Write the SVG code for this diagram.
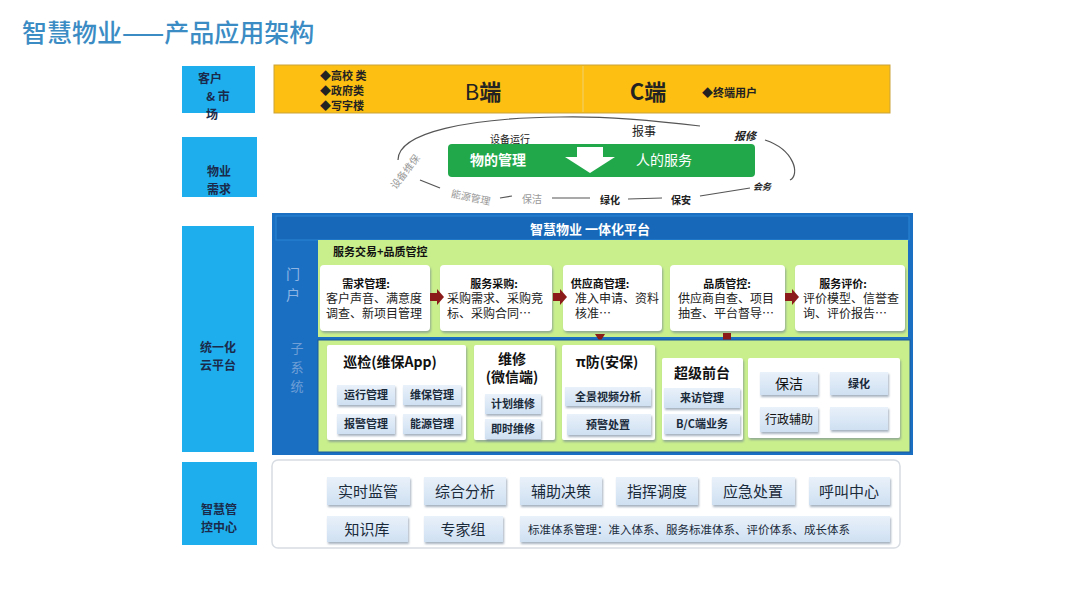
<svg xmlns="http://www.w3.org/2000/svg" width="1080" height="607" viewBox="0 0 1080 607">
<defs>
<linearGradient id="btn" x1="0" y1="0" x2="0" y2="1"><stop offset="0" stop-color="#e9f1fa"/><stop offset="1" stop-color="#cfe0f2"/></linearGradient>
<filter id="sh" x="-10%" y="-10%" width="130%" height="140%"><feDropShadow dx="1" dy="2" stdDeviation="1.2" flood-color="#6a7f95" flood-opacity="0.6"/></filter>
</defs>
<style>
text{font-family:"Noto Sans CJK SC","Noto Sans",sans-serif;}
.lbl{fill:#1eaeee;}
.lt{font-size:12px;font-weight:bold;fill:#1a2a4a;text-anchor:middle;}
.btn{fill:url(#btn);filter:url(#sh);}
.bt{font-size:15px;fill:#1a2a3a;text-anchor:middle;}
.st{font-size:11px;font-weight:bold;fill:#1a2a3a;text-anchor:middle;}
.card{fill:#ffffff;filter:url(#sh);}
.ch{font-size:11px;font-weight:bold;fill:#111;text-anchor:middle;}
.cb{font-size:12px;fill:#222;}
.arr{fill:#8b1a1a;}
.ring{fill:none;stroke:#555;stroke-width:1.2;}
.rl{font-size:10px;fill:#222;}
.rg{font-size:10px;fill:#999;}
</style>
<rect width="1080" height="607" fill="#ffffff"/>
<text x="22" y="42" font-size="25" fill="#3b8cc4" font-weight="500">智慧物业——产品应用架构</text>

<g id="label-market"><rect class="lbl" x="182" y="66" width="73" height="47"/><text class="lt" x="210" y="83">客户</text><text class="lt" x="218" y="101">&amp; 市</text><text class="lt" x="212" y="119">场</text></g>
<g id="label-demand"><rect class="lbl" x="182" y="137" width="75" height="60"/><text class="lt" x="219" y="176">物业</text><text class="lt" x="219" y="194">需求</text></g>
<g id="label-platform"><rect class="lbl" x="182" y="226" width="72" height="226"/><text class="lt" x="218" y="352">统一化</text><text class="lt" x="218" y="370">云平台</text></g>
<g id="label-control"><rect class="lbl" x="182" y="462" width="75" height="83"/><text class="lt" x="219" y="514">智慧管</text><text class="lt" x="219" y="532">控中心</text></g>

<g id="market">
<rect x="274" y="65" width="616" height="48" fill="#fcbf12" stroke="#c9a33a" stroke-width="1"/>
<line x1="583" y1="66" x2="583" y2="112" stroke="#f0d070" stroke-width="1"/>
<text x="320" y="80" font-size="11" font-weight="bold" fill="#222">◆高校 类</text>
<text x="320" y="95" font-size="11" font-weight="bold" fill="#222">◆政府类</text>
<text x="320" y="110" font-size="11" font-weight="bold" fill="#222">◆写字楼</text>
<text x="483" y="100" font-size="22" fill="#222" text-anchor="middle" font-family="Liberation Serif, serif">B<tspan font-family="Noto Sans CJK SC" font-weight="bold">端</tspan></text>
<text x="648" y="100" font-size="22" font-weight="bold" fill="#222" text-anchor="middle" font-family="Liberation Serif, serif">C<tspan font-family="Noto Sans CJK SC">端</tspan></text>
<text x="702" y="97" font-size="11" font-weight="bold" fill="#222">◆终端用户</text>
</g>

<g id="demand">
<path class="ring" d="M398,160 C398,132 470,118 560,117 C600,116 650,120 700,126"/>
<path class="ring" d="M765,140 C795,150 800,175 790,180"/>
<path class="ring" d="M420,180 L440,188"/>
<path class="ring" d="M500,198 L512,196"/>
<path class="ring" d="M552,198 L590,198"/>
<path class="ring" d="M628,199 L662,198"/>
<path class="ring" d="M700,196 L750,188"/>
<text class="rl" x="510" y="143" text-anchor="middle">设备运行</text>
<text x="644" y="136" font-size="12" fill="#222" text-anchor="middle">报事</text>
<text x="745" y="140" font-size="11" font-weight="bold" font-style="italic" fill="#222" text-anchor="middle">报修</text>
<text x="762" y="190" font-size="9" font-weight="bold" font-style="italic" fill="#222" text-anchor="middle">会务</text>
<text class="rg" transform="translate(408,174) rotate(-52)" text-anchor="middle">设备维保</text>
<text class="rg" transform="translate(470,201) rotate(12)" text-anchor="middle">能源管理</text>
<text class="rg" x="532" y="203" text-anchor="middle">保洁</text>
<text class="rl" x="610" y="204" text-anchor="middle" font-weight="bold">绿化</text>
<text class="rl" x="681" y="204" text-anchor="middle" font-weight="bold">保安</text>
<rect x="448" y="144" width="307" height="33" rx="4" fill="#21a84a"/>
<text x="470" y="165" font-size="14" font-weight="bold" fill="#ffffff">物的管理</text>
<text x="636" y="165" font-size="14" fill="#ffffff">人的服务</text>
<path d="M577,147 L603,147 L603,157 L615,157 L590,173 L565,157 L577,157 z" fill="#ffffff"/>
</g>

<g id="platform">
<rect x="272" y="213" width="641" height="242" fill="#1b6fc3"/>
<rect x="276" y="216" width="633" height="24" fill="#1768b8" stroke="#2a86d8" stroke-width="1"/>
<text x="590" y="234" font-size="13" font-weight="bold" fill="#ffffff" text-anchor="middle">智慧物业 一体化平台</text>
<text x="293" y="279" font-size="14" fill="#8fb6e3" text-anchor="middle">门</text>
<text x="293" y="300" font-size="14" fill="#8fb6e3" text-anchor="middle">户</text>
<text x="297" y="353" font-size="13" fill="#6f9fd6" text-anchor="middle">子</text>
<text x="297" y="372" font-size="13" fill="#6f9fd6" text-anchor="middle">系</text>
<text x="297" y="391" font-size="13" fill="#6f9fd6" text-anchor="middle">统</text>
</g>

<g id="trade">
<rect x="318" y="240" width="590" height="97" fill="#c9ef8c"/>
<text x="333" y="256" font-size="11" font-weight="bold" fill="#111">服务交易+品质管控</text>
</g>
<g id="card-demand"><rect class="card" x="320" y="265" width="110" height="66" rx="4"/><text class="ch" x="366" y="288">需求管理:</text><text class="cb" x="326" y="303">客户声音、满意度</text><text class="cb" x="326" y="318">调查、新项目管理</text></g>
<g id="card-purchase"><rect class="card" x="440" y="265" width="112" height="66" rx="4"/><text class="ch" x="494" y="288">服务采购:</text><text class="cb" x="447" y="303">采购需求、采购竞</text><text class="cb" x="447" y="318">标、采购合同…</text></g>
<g id="card-supplier"><rect class="card" x="563" y="265" width="99" height="66" rx="4"/><text class="ch" x="600" y="288">供应商管理:</text><text class="cb" x="575" y="303">准入申请、资料</text><text class="cb" x="575" y="318">核准…</text></g>
<g id="card-quality"><rect class="card" x="670" y="265" width="115" height="66" rx="4"/><text class="ch" x="727" y="288">品质管控:</text><text class="cb" x="678" y="303">供应商自查、项目</text><text class="cb" x="678" y="318">抽查、平台督导…</text></g>
<g id="card-eval"><rect class="card" x="795" y="265" width="110" height="66" rx="4"/><text class="ch" x="843" y="288">服务评价:</text><text class="cb" x="803" y="303">评价模型、信誉查</text><text class="cb" x="803" y="318">询、评价报告…</text></g>

<g id="connectors">
<path class="arr" d="M430,293 L437,293 L437,289 L444,297 L437,305 L437,301 L430,301 z"/>
<path class="arr" d="M553,293 L560,293 L560,289 L567,297 L560,305 L560,301 L553,301 z"/>
<path class="arr" d="M785,293 L792,293 L792,289 L799,297 L792,305 L792,301 L785,301 z"/>
<path class="arr" d="M595,334 L605,334 L600,342 z"/>
<rect class="arr" x="723" y="333" width="8" height="7"/>
</g>

<g id="subsystems">
<rect x="318" y="340" width="592" height="112" fill="#c9ef8c" stroke="#1a5a9a" stroke-width="1"/>
</g>
<g id="inspect"><rect class="card" x="327" y="345" width="139" height="95" rx="2"/><text x="390" y="367" font-size="14" font-weight="bold" fill="#111" text-anchor="middle">巡检(维保App)</text>
<rect class="btn" x="337" y="385" width="58" height="20"/><text class="st" x="366" y="399">运行管理</text>
<rect class="btn" x="403" y="385" width="58" height="20"/><text class="st" x="432" y="399" font-weight="normal">维保管理</text>
<rect class="btn" x="337" y="414" width="58" height="20"/><text class="st" x="366" y="428">报警管理</text>
<rect class="btn" x="403" y="414" width="58" height="20"/><text class="st" x="432" y="428" font-weight="normal">能源管理</text></g>
<g id="repair"><rect class="card" x="474" y="345" width="81" height="95" rx="2"/><text x="512" y="364" font-size="14" font-weight="bold" fill="#111" text-anchor="middle">维修</text><text x="512" y="382" font-size="14" font-weight="bold" fill="#111" text-anchor="middle">(微信端)</text>
<rect class="btn" x="485" y="394" width="56" height="20"/><text class="st" x="513" y="408" font-weight="normal">计划维修</text>
<rect class="btn" x="485" y="419" width="56" height="20"/><text class="st" x="513" y="433">即时维修</text></g>
<g id="security"><rect class="card" x="562" y="345" width="93" height="95" rx="2"/><text x="607" y="367" font-size="14" font-weight="bold" fill="#111" text-anchor="middle">π防(安保)</text>
<rect class="btn" x="565" y="387" width="86" height="19"/><text class="st" x="608" y="401" font-weight="normal">全景视频分析</text>
<rect class="btn" x="567" y="414" width="84" height="21"/><text class="st" x="608" y="429" font-weight="normal">预警处置</text></g>
<g id="frontdesk"><rect class="card" x="662" y="358" width="81" height="82" rx="2"/><text x="702" y="378" font-size="14" font-weight="bold" fill="#111" text-anchor="middle">超级前台</text>
<rect class="btn" x="664" y="388" width="76" height="20"/><text class="st" x="702" y="402" font-weight="normal">来访管理</text>
<rect class="btn" x="664" y="414" width="76" height="20"/><text class="st" x="702" y="428" font-weight="normal">B/C端业务</text></g>
<g id="admin"><rect class="card" x="748" y="358" width="152" height="80" rx="2"/>
<rect class="btn" x="760" y="372" width="58" height="23"/><text x="789" y="389" font-size="14" fill="#111" text-anchor="middle">保洁</text>
<rect class="btn" x="830" y="372" width="58" height="23"/><text class="st" x="859" y="388">绿化</text>
<rect class="btn" x="760" y="407" width="58" height="25"/><text x="789" y="424" font-size="12" fill="#111" text-anchor="middle">行政辅助</text>
<rect class="btn" x="830" y="407" width="58" height="23"/></g>

<g id="control">
<rect x="272" y="460" width="628" height="88" rx="6" fill="#ffffff" stroke="#d8dde3" stroke-width="1.5"/>
<rect class="btn" x="327" y="477" width="83" height="28"/><text class="bt" x="368" y="497">实时监管</text>
<rect class="btn" x="424" y="477" width="82" height="28"/><text class="bt" x="465" y="497">综合分析</text>
<rect class="btn" x="520" y="477" width="82" height="28"/><text class="bt" x="561" y="497">辅助决策</text>
<rect class="btn" x="616" y="477" width="82" height="28"/><text class="bt" x="657" y="497">指挥调度</text>
<rect class="btn" x="712" y="477" width="83" height="28"/><text class="bt" x="753" y="497">应急处置</text>
<rect class="btn" x="809" y="477" width="81" height="28"/><text class="bt" x="849" y="497">呼叫中心</text>
<rect class="btn" x="327" y="516" width="81" height="26"/><text class="bt" x="367" y="535">知识库</text>
<rect class="btn" x="424" y="516" width="79" height="26"/><text class="bt" x="463" y="535">专家组</text>
<rect class="btn" x="520" y="516" width="370" height="26"/><text x="528" y="534" font-size="11.5" fill="#1a2a3a">标准体系管理：准入体系、服务标准体系、评价体系、成长体系</text>
</g>
</svg>
